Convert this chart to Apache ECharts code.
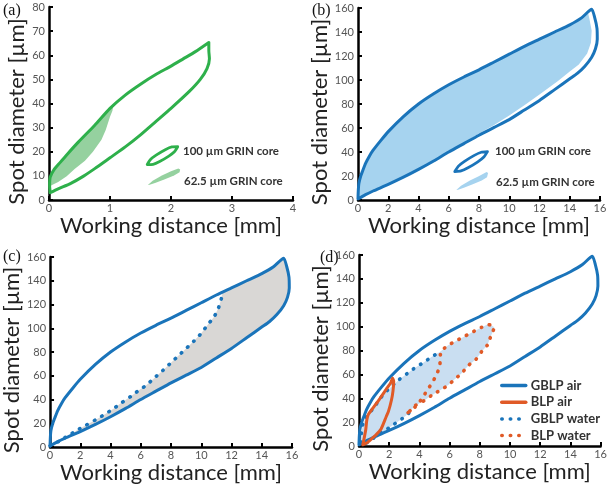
<!DOCTYPE html>
<html><head><meta charset="utf-8">
<script src="https://cdn.jsdelivr.net/npm/echarts@6/dist/echarts.min.js"></script>
<style>html,body{margin:0;padding:0;background:#fff}#c{width:610px;height:490px}</style>
</head><body><div id="c"></div>
<script>
// ---------- tick labels ----------
const ticksXa = [0, 1, 2, 3, 4];
const ticksYa = [0, 10, 20, 30, 40, 50, 60, 70, 80];
const ticksXb = [0, 2, 4, 6, 8, 10, 12, 14, 16];
const ticksYb = [0, 20, 40, 60, 80, 100, 120, 140, 160];

// ---------- panel (a) ----------
const grin100Loop_a = [[0.02,3],[0.01,6],[0.02,9.5],[0.08,12.5],[0.18,15.5],[0.3,19],[0.48,24],[0.75,31],[1.0,38],[1.25,43.5],[1.5,48],[1.75,52],[2.0,55.5],[2.2,58.5],[2.4,61.5],[2.62,65.3],[2.62,62],[2.63,58.5],[2.59,54.5],[2.48,50],[2.3,45],[2.0,38],[1.75,32.5],[1.5,27],[1.25,22],[1.0,17.5],[0.75,13],[0.56,9.8],[0.35,6.8],[0.15,4.6],[0.02,3]];
const grin62Fill_a = [[0.0,5.5],[0.01,6],[0.02,9.5],[0.08,12.5],[0.18,15.5],[0.3,19],[0.48,24],[0.75,31],[1.0,38],[1.06,40],[1.04,37],[1.0,34.5],[0.93,29],[0.86,25],[0.72,20],[0.59,16.3],[0.42,12.8],[0.29,9.8],[0.15,7.5],[0.05,6.2],[0.0,5.5]];
const legendLoop_a = [[1.61,14.7],[1.664,16.8],[1.756,18.6],[1.906,20.85],[2.014,22.0],[2.11,22.1],[2.056,20.0],[1.964,18.2],[1.814,15.95],[1.706,14.8],[1.61,14.7]];
const legendFill_a = [[1.62,6.2],[1.7,8],[1.85,10.2],[2.0,11.9],[2.12,13.1],[2.15,12.6],[2.14,11.5],[2.05,10.2],[1.9,8.6],[1.75,7.2],[1.65,6.3]];

// ---------- GBLP air outline (panels b, c, d) ----------
const gblpAir = [[0,1],[0.02,8],[0.06,14],[0.18,20],[0.3,24],[0.5,30.5],[0.75,36.5],[1.0,41.5],[1.5,49.5],[2,57],[3,69.5],[4,80],[5,88.5],[6,96],[7,102.5],[8,108.5],[9,115],[10,121.5],[11,128],[12,134],[13,140],[14,146],[14.8,152],[15.45,159],
  [15.65,152],[15.8,143],[15.82,134],[15.7,126],[15.45,119],[15.0,111.5],[14.5,105.5],[14,101],[13,92],[12,83],[11,75],[10,67],[9,60.5],[8,54],[7,47],[6,40],[5,32.5],[4,25.5],[3,19],[2,13],[1,7.5],[0.5,4.5],[0.15,2],[0,1]];

// ---------- panel (b) ----------
const grin62Fill_b = [[0,1],[0.02,8],[0.06,14],[0.18,20],[0.3,24],[0.5,30.5],[0.75,36.5],[1.0,41.5],[1.5,49.5],[2,57],[3,69.5],[4,80],[5,88.5],[6,96],[7,102.5],[8,108.5],[9,115],[10,121.5],[11,128],[12,134],[13,140],[14,146],[14.8,151.5],[15.2,156.5],
  [15.3,151],[15.45,141],[15.4,131],[15.15,122],[14.6,113],[14,107],[13.2,99],[12,88],[11,79],[10,70.5],[9,62.5],[8,55.5],[7,47.5],[6,40.3],[5,32.5],[4,25.5],[3,19],[2,13],[1,7.5],[0.5,4.5],[0.15,2],[0,1]];
const legendLoop_b = [[6.4,23.7],[6.64,28.2],[7.04,32.2],[7.69,37.2],[8.15,39.8],[8.56,40.3],[8.32,35.8],[7.92,31.8],[7.27,26.8],[6.81,24.2],[6.4,23.7]];
const legendFill_b = [[6.5,8.3],[6.81,11.9],[7.4,16.3],[7.98,19.7],[8.5,23.3],[8.6,22.5],[8.53,18.9],[8.18,16.3],[7.59,13.1],[7.0,10.3],[6.62,8.5]];

// ---------- panel (c) ----------
const gblpWater_c = [[0,1],[0.6,4.8],[1.16,9.3],[1.75,13.8],[2.4,18.5],[3.0,22.8],[3.55,27],[4.17,32],[4.7,37],[5.33,42.5],[5.85,47.5],[6.36,52],[6.9,58.2],[7.46,64.5],[8,71],[8.5,77],[9,83],[9.5,89],[10,95.7],[10.4,102.5],[10.85,109.7],[11.15,117.5],[11.33,125],[11.42,131]];

// ---------- panel (d) ----------
const blpAir = [[0.25,1],[0.35,7],[0.45,14],[0.52,22],[0.62,26.5],[0.85,30.5],[1.3,38.3],[1.8,47.5],[2.1,53],[2.22,57],[2.3,54],[2.25,46],[2.15,38.5],[1.95,29],[1.8,24.5],[1.45,14],[1.1,9],[0.85,6.2],[0.5,2.5],[0.25,1]];
const gblpWaterLower_d = [[3.3,27.5],[2.87,23],[2.33,18.3],[1.78,13.5],[1.24,9.5],[0.8,5],[0.3,1.5]];
const gblpWaterUpper_d = [[0.08,3],[0.15,10],[0.26,18.5],[0.48,24.3],[1.02,32.7],[1.41,40],[1.89,46.7],[2.65,55.5],[3.19,60.7],[3.74,65.8],[4.28,70],[4.82,74.7],[5.37,78.9]];
const blpWater = [[3.25,28],[3.74,33],[4.17,39.7],[4.5,46.5],[4.85,53],[5.1,59],[5.3,65],[5.38,71],[5.4,78.5],[5.9,84.3],[6.4,87.8],[7.0,92],[7.6,96],[8.1,99.3],[8.5,101.8],[8.75,101.2],[8.96,99.5],[8.85,95.5],[8.73,92],[8.5,84.5],[8.14,79.4],[7.75,72.7],[7.26,67.7],[6.78,60.7],[6.3,55.5],[5.91,51],[5.37,46.7],[4.82,42.5],[4.35,38.3],[3.74,34],[3.42,30],[3.25,28]];
const blpWaterJoinIndex = 8;

const legendNames_d = ['GBLP air', 'BLP air', 'GBLP water', 'BLP water'];
const legendTexts = ['100 µm GRIN core', '62.5 µm GRIN core'];
const panelLabels = ['(a)', '(b)', '(c)', '(d)'];

// ---------- styles ----------
const GREEN = '#2eb04b', GREEN_FILL = '#95d19f';
const BLUE = '#1a74ba', BLUE_FILL_B = '#a6d3ef', BLUE_FILL_D = '#c9def1';
const GRAY_FILL = '#d9d7d5', ORANGE = '#e05a27';
const DOTS = [0.5, 8];
const FONT = 'Lato, "Open Sans", sans-serif';

const chart = echarts.init(document.getElementById('c'), null, {renderer: 'canvas'});

function poly(pts, color, idx, z) {
  return {type: 'custom', xAxisIndex: idx, yAxisIndex: idx, silent: true, z: z, clip: false,
    data: [pts[0]],
    renderItem: function (params, api) {
      return {type: 'polygon', shape: {points: pts.map(function (p) { return api.coord(p); })},
        style: {fill: color, stroke: null}};
    }};
}
function line(pts, color, idx, z, dotted, name, w) {
  return {type: 'line', name: name, xAxisIndex: idx, yAxisIndex: idx, data: pts, symbol: 'none',
    showSymbol: false, silent: true, z: z, smooth: 0.2, clip: false,
    lineStyle: {color: color, width: w || (dotted ? 3.6 : 3), type: dotted ? DOTS : 'solid', cap: 'round', join: 'round'}};
}
function xAxis(idx, ticks, nameGap) {
  return {type: 'value', gridIndex: idx, min: ticks[0], max: ticks[ticks.length - 1], interval: ticks[1] - ticks[0],
    name: 'Working distance [mm]', nameLocation: 'middle', nameGap: nameGap,
    nameTextStyle: {fontFamily: FONT, fontSize: 22, color: '#222'},
    axisLine: {lineStyle: {color: '#000', width: 2.5}},
    axisTick: {inside: true, length: 4, lineStyle: {color: '#000', width: 2}},
    axisLabel: {fontFamily: FONT, fontSize: 11, color: '#555', margin: 3},
    splitLine: {show: false}};
}
function yAxis(idx, ticks, nameGap) {
  return {type: 'value', gridIndex: idx, min: ticks[0], max: ticks[ticks.length - 1], interval: ticks[1] - ticks[0],
    name: 'Spot diameter [µm]', nameLocation: 'middle', nameGap: nameGap,
    nameTextStyle: {fontFamily: FONT, fontSize: 22, color: '#222', padding: [0, 16, 0, 0]},
    axisLine: {show: true, lineStyle: {color: '#000', width: 2.5}},
    axisTick: {show: true, inside: true, length: 4, lineStyle: {color: '#000', width: 2}},
    axisLabel: {fontFamily: FONT, fontSize: 11, color: '#555', margin: 4},
    splitLine: {show: false}};
}

// composite fills
const upperEnd = gblpAir.findIndex(function (p) { return p[0] > gblpWater_c[gblpWater_c.length - 1][0]; });
const grayFill_c = gblpWater_c.concat(gblpAir.slice(upperEnd));
const blueFill_d = gblpWaterUpper_d.concat(blpWater.slice(blpWaterJoinIndex + 1), gblpWaterLower_d);

const series = [
  // (a)
  poly(grin62Fill_a, GREEN_FILL, 0, 1),
  line(grin100Loop_a, GREEN, 0, 3),
  line(legendLoop_a, GREEN, 0, 3, false, undefined, 2.8),
  poly(legendFill_a, GREEN_FILL, 0, 1),
  // (b)
  poly(grin62Fill_b, BLUE_FILL_B, 1, 1),
  line(gblpAir, BLUE, 1, 3),
  line(legendLoop_b, BLUE, 1, 3, false, undefined, 2.8),
  poly(legendFill_b, BLUE_FILL_B, 1, 1),
  // (c)
  poly(grayFill_c, GRAY_FILL, 2, 1),
  line(gblpAir, BLUE, 2, 3),
  line(gblpWater_c, BLUE, 2, 4, true),
  // (d)
  poly(blueFill_d, BLUE_FILL_D, 3, 1),
  line(gblpAir, BLUE, 3, 3, false, 'GBLP air'),
  line(gblpWaterLower_d.concat(gblpWaterUpper_d), BLUE, 3, 4, true, 'GBLP water'),
  line(blpWater, ORANGE, 3, 4, true, 'BLP water'),
  line(blpAir, ORANGE, 3, 5, false, 'BLP air')
];

function txt(x, y, s, style) {
  return {type: 'text', left: x, top: y, silent: true, style: Object.assign({text: s}, style)};
}
const legStyle = {font: 'bold 11.5px ' + FONT, fill: '#333'};
const lblStyle = {font: '16px "Liberation Serif", "DejaVu Serif", serif', fill: '#111'};

chart.setOption({
  animation: false,
  backgroundColor: '#fff',
  grid: [
    {left: 49, top: 7, width: 244, height: 193},
    {left: 358, top: 8, width: 242, height: 192},
    {left: 49, top: 257, width: 243, height: 190},
    {left: 359, top: 255, width: 246, height: 191}
  ],
  xAxis: [xAxis(0, ticksXa, 15), xAxis(1, ticksXb, 15), xAxis(2, ticksXb, 15), xAxis(3, ticksXb, 15)],
  yAxis: [yAxis(0, ticksYa, 21), yAxis(1, ticksYb, 27), yAxis(2, ticksYb, 25), yAxis(3, ticksYb, 26)],
  legend: {data: legendNames_d, orient: 'vertical', left: 495, top: 374, itemWidth: 24, itemHeight: 14, itemGap: 3.7,
    selectedMode: false, itemStyle: {opacity: 0}, lineStyle: {width: 3.5},
    textStyle: {fontFamily: FONT, fontWeight: 'bold', fontSize: 13, color: '#333'}},
  graphic: [
    txt(183, 145, legendTexts[0], legStyle), txt(184, 175, legendTexts[1], legStyle),
    txt(495, 145, legendTexts[0], legStyle), txt(496, 176, legendTexts[1], legStyle),
    txt(3, 3, panelLabels[0], lblStyle), txt(312, 3, panelLabels[1], lblStyle),
    txt(3, 249, panelLabels[2], lblStyle), txt(320, 250, panelLabels[3], lblStyle)
  ],
  series: series
});
</script></body></html>
